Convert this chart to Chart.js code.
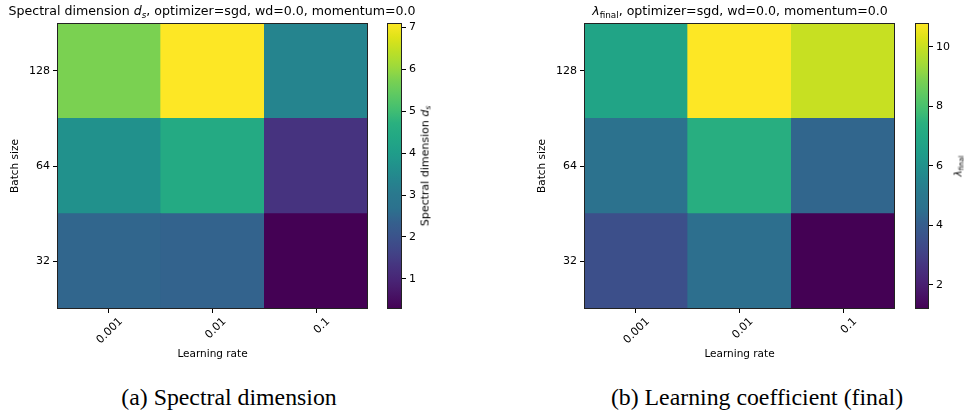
<!DOCTYPE html>
<html>
<head>
<meta charset="utf-8">
<script src="https://cdn.jsdelivr.net/npm/chart.js@4.4.1/dist/chart.umd.min.js"></script>
<style>
  body { margin:0; width:966px; height:415px; overflow:hidden; background:#fff; position:relative;
         font-family:'DejaVu Sans', sans-serif; color:#000; }
  canvas { position:absolute; }
  .title { position:absolute; top:3px; font-size:12.6px; line-height:16px; white-space:nowrap; transform:translateX(-50%); }
  .title sub, .cbl sub { font-size:70%; vertical-align:-0.3em; line-height:0; }
  .cap { position:absolute; top:382px; font-family:'Liberation Serif','Times New Roman',serif; font-size:23.8px;
         line-height:30px; white-space:nowrap; transform:translateX(-50%); }
  .cbl { position:absolute; font-size:11px; line-height:13px; white-space:nowrap;
         transform:translate(-50%,-50%) rotate(-90deg); }
</style>
</head>
<body>
<canvas id="heatA" width="380" height="380" style="left:0;top:0"></canvas>
<canvas id="barA" width="52" height="380" style="left:380px;top:0"></canvas>
<canvas id="heatB" width="380" height="380" style="left:527px;top:0"></canvas>
<canvas id="barB" width="51" height="380" style="left:908px;top:0"></canvas>

<div class="title" style="left:212px">Spectral dimension <i>d<sub>s</sub></i>, optimizer=sgd, wd=0.0, momentum=0.0</div>
<div class="title" style="left:740px"><i>λ</i><sub>final</sub>, optimizer=sgd, wd=0.0, momentum=0.0</div>
<div class="cbl" style="left:425px;top:166px">Spectral dimension <i>d<sub>s</sub></i></div>
<div class="cbl" style="left:958px;top:166px;font-size:10px"><i>λ</i><sub>final</sub></div>
<div class="cap" style="left:229px">(a) Spectral dimension</div>
<div class="cap" style="left:757px">(b) Learning coefficient (final)</div>

<script>
// Grid axes
const learningRates = ['0.001', '0.01', '0.1'];
const batchSizes = ['32', '64', '128'];

// Spectral dimension d_s, one array per batch size (columns follow learningRates)
const specDim32  = [2.47, 2.40, 0.28];
const specDim64  = [3.70, 4.45, 1.30];
const specDim128 = [5.74, 7.11, 3.35];

// Final learning coefficient lambda, one array per batch size
const lambda32  = [3.50, 4.51, 1.19];
const lambda64  = [4.60, 7.34, 4.27];
const lambda128 = [6.76, 10.80, 9.98];

// Colorbar tick values
const specDimTicks = [1, 2, 3, 4, 5, 6, 7];
const lambdaTicks = [2, 4, 6, 8, 10];

// Viridis colormap anchor colours (every 0.05)
const VIRIDIS = ['#440154','#471365','#482475','#46337f','#414487','#3b528b','#355f8d','#2c718e',
  '#2a788e','#25848e','#21918c','#1f9e89','#22a884','#2ab07f','#44bf70','#5ec962','#7ad151',
  '#9fda3a','#bddf26','#dfe318','#fde725'];
function hexRgb(h) { return [1,3,5].map(i => parseInt(h.slice(i, i + 2), 16)); }
function viridis(t) {
  t = Math.max(0, Math.min(1, t));
  const f = t * (VIRIDIS.length - 1);
  const i = Math.min(Math.floor(f), VIRIDIS.length - 2);
  const a = hexRgb(VIRIDIS[i]), b = hexRgb(VIRIDIS[i + 1]), u = f - i;
  const c = a.map((v, k) => Math.round(v + (b[k] - v) * u));
  return `rgb(${c[0]},${c[1]},${c[2]})`;
}

Chart.defaults.font.family = "'DejaVu Sans', sans-serif";
Chart.defaults.color = '#000';

// Draws the black frame round each axes box
const framePlugin = {
  id: 'frame',
  afterDatasetsDraw(chart) {
    const { ctx, chartArea: a } = chart;
    ctx.save();
    ctx.strokeStyle = '#222';
    ctx.lineWidth = 1;
    ctx.strokeRect(Math.round(a.left) + 0.5, Math.round(a.top) + 0.5,
                   Math.round(a.right - a.left) - 1, Math.round(a.bottom - a.top) - 1);
    ctx.restore();
  }
};

function heatmap(id, rows) {
  const all = rows.flat();
  const vmin = Math.min(...all), vmax = Math.max(...all);
  const datasets = rows.map((vals, r) => ({
    data: vals.map(() => [r, r + 1]),
    backgroundColor: vals.map(v => viridis((v - vmin) / (vmax - vmin))),
    borderWidth: 0,
    barPercentage: 1,
    categoryPercentage: 1,
    grouped: false
  }));
  new Chart(document.getElementById(id), {
    type: 'bar',
    data: { labels: learningRates, datasets },
    options: {
      responsive: false, animation: false, devicePixelRatio: 1,
      layout: { padding: { left: 9, right: 12, top: 23, bottom: 15 } },
      plugins: { legend: { display: false }, tooltip: { enabled: false } },
      scales: {
        x: {
          type: 'category',
          border: { display: false },
          grid: { offset: false, drawOnChartArea: false, tickLength: 4, color: '#000' },
          ticks: { autoSkip: false, minRotation: 45, maxRotation: 45, labelOffset: 12, padding: 2,
                   font: { size: 11 } },
          title: { display: true, text: 'Learning rate', font: { size: 10.5 }, padding: { top: 0, bottom: 4 } },
          afterFit: s => { s.height = 56; }
        },
        y: {
          type: 'linear', min: 0, max: 3,
          border: { display: false },
          grid: { drawOnChartArea: false, tickLength: 4, color: '#000' },
          afterBuildTicks: s => { s.ticks = batchSizes.map((b, i) => ({ value: i + 0.5 })); },
          ticks: { callback: (v, i) => batchSizes[i], padding: 3, font: { size: 11 } },
          title: { display: true, text: 'Batch size', font: { size: 10.5 }, padding: { top: 0, bottom: 4 } },
          afterFit: s => { s.width = 48; }
        }
      }
    },
    plugins: [framePlugin]
  });
  return [vmin, vmax];
}

function colorbar(id, range, ticks) {
  const [vmin, vmax] = range;
  new Chart(document.getElementById(id), {
    type: 'bar',
    data: {
      labels: [''],
      datasets: [{
        data: [[vmin, vmax]],
        borderWidth: 0, barPercentage: 1, categoryPercentage: 1,
        backgroundColor: ctx => {
          const chart = ctx.chart;
          if (!chart.chartArea) return '#888';
          const y = chart.scales.y;
          const g = chart.ctx.createLinearGradient(0, y.getPixelForValue(vmin), 0, y.getPixelForValue(vmax));
          for (let k = 0; k <= 40; k++) g.addColorStop(k / 40, viridis(k / 40));
          return g;
        }
      }]
    },
    options: {
      responsive: false, animation: false, devicePixelRatio: 1,
      layout: { padding: { left: 7, right: 0, top: 23, bottom: 71 } },
      plugins: { legend: { display: false }, tooltip: { enabled: false } },
      scales: {
        x: { display: false },
        y: {
          type: 'linear', position: 'right', min: vmin, max: vmax,
          border: { display: false },
          grid: { drawOnChartArea: false, tickLength: 4, color: '#000' },
          afterBuildTicks: s => { s.ticks = ticks.map(v => ({ value: v })); },
          ticks: { padding: 3, font: { size: 11 } },
          afterFit: s => { s.width = 30; }
        }
      }
    },
    plugins: [framePlugin]
  });
}

const rangeA = heatmap('heatA', [specDim32, specDim64, specDim128]);
colorbar('barA', rangeA, specDimTicks);
const rangeB = heatmap('heatB', [lambda32, lambda64, lambda128]);
colorbar('barB', rangeB, lambdaTicks);
</script>
</body>
</html>
